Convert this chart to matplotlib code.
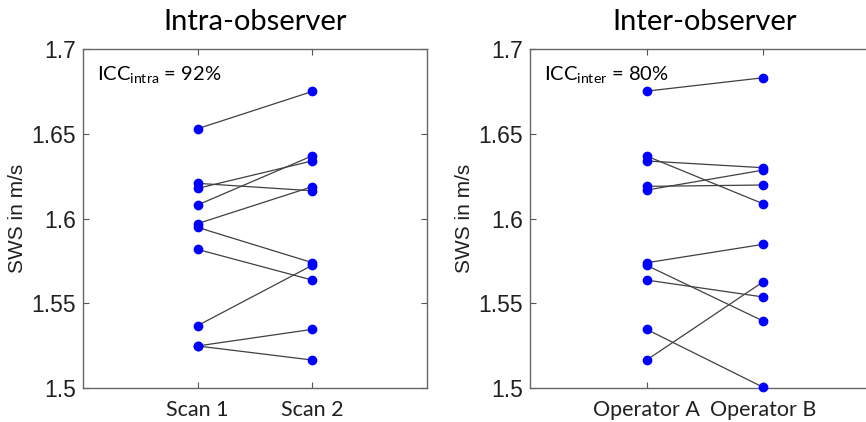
import numpy as np
import matplotlib.pyplot as plt

# SWS values (m/s)
scan1 = [1.653, 1.6208, 1.6178, 1.608, 1.597, 1.5948, 1.5818, 1.5368, 1.5248, 1.5248]
scan2 = [1.675, 1.6164, 1.634, 1.637, 1.6188, 1.574, 1.5637, 1.5724, 1.5346, 1.5165]

op_a = [1.6752, 1.6369, 1.634, 1.619, 1.6168, 1.5739, 1.5724, 1.5637, 1.5346, 1.5165]
op_b = [1.6831, 1.6087, 1.630, 1.6198, 1.6286, 1.5848, 1.5395, 1.5537, 1.5004, 1.5627]

panels = [
    ("Intra-observer", ["Scan 1", "Scan 2"], scan1, scan2, "ICC$_{\\mathregular{intra}}$ = 92%"),
    ("Inter-observer", ["Operator A", "Operator B"], op_a, op_b, "ICC$_{\\mathregular{inter}}$ = 80%"),
]
yticks = [1.5, 1.55, 1.6, 1.65, 1.7]
ytick_labels = ["1.5", "1.55", "1.6", "1.65", "1.7"]

plt.rcParams["font.family"] = "Lato"
plt.rcParams["mathtext.fontset"] = "custom"
plt.rcParams["mathtext.rm"] = "Lato"

fig = plt.figure(figsize=(8.66, 4.22), dpi=100)
boxes = [[0.0958, 0.0806, 0.397, 0.803], [0.612, 0.0806, 0.404, 0.803]]

for box, (title, xlabels, a, b, icc) in zip(boxes, panels):
    ax = fig.add_axes(box)
    for ya, yb in zip(a, b):
        ax.plot([1, 2], [ya, yb], color="#404040", lw=0.9, zorder=2)
    ax.plot([1] * len(a), a, "o", color="#0000ff", ms=6, zorder=3, clip_on=False)
    ax.plot([2] * len(b), b, "o", color="#0000ff", ms=6, zorder=3, clip_on=False)

    ax.set_xlim(0, 3)
    ax.set_ylim(1.5, 1.7)
    ax.set_xticks([1, 2])
    ax.set_xticklabels(xlabels, fontsize=15.5, color="#202020")
    ax.set_yticks(yticks)
    ax.set_yticklabels(ytick_labels, fontsize=16.5, family="Liberation Sans", color="#202020")
    ax.set_ylabel("SWS in m/s", fontsize=15, family="Liberation Sans", labelpad=3, color="#202020")
    ax.set_title(title, fontsize=21, pad=14)
    ax.tick_params(direction="in", top=True, right=True, length=4, width=0.8,
                   color="#555555", pad=5)
    ax.tick_params(axis="x", pad=9)
    for s in ax.spines.values():
        s.set_color("#666666")
        s.set_linewidth(1.0)
    ax.text(0.04, 0.955, icc, transform=ax.transAxes, fontsize=14.5, va="top", ha="left")

fig.savefig("out.png", dpi=100)
